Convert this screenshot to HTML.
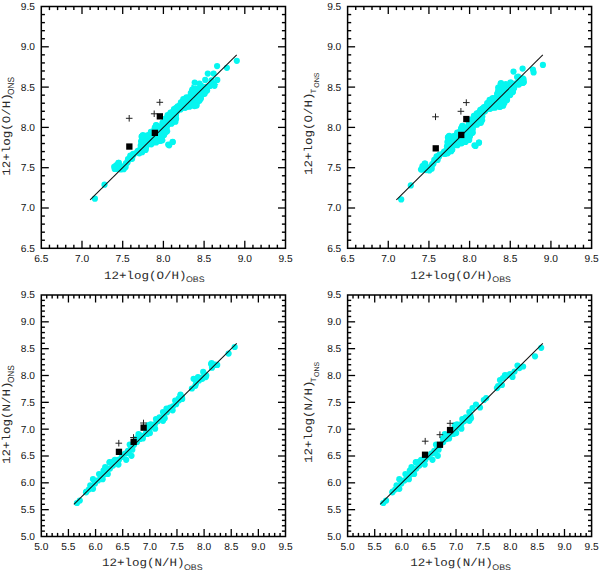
<!DOCTYPE html>
<html><head><meta charset="utf-8"><style>
html,body{margin:0;padding:0;background:#fff;width:600px;height:572px;overflow:hidden}
svg{display:block;text-rendering:geometricPrecision}
</style></head><body>
<svg width="600" height="572" viewBox="0 0 600 572">
<rect width="600" height="572" fill="#fff"/>
<polygon fill="#06f6f0" points="112.5,168.3 113.2,165.5 114.2,164.2 115.8,161.7 118.3,160.2 120.8,161.5 121.8,163.8 123.5,163.0 125.0,160.0 126.7,156.7 129.2,153.3 132.5,151.7 135.8,149.6 138.3,146.7 138.5,143.3 139.0,139.5 139.5,134.5 142.0,133.1 144.8,134.3 147.5,132.2 149.5,130.0 152.5,127.8 152.8,125.0 155.9,122.0 159.0,124.3 160.5,121.6 163.5,117.0 166.1,113.2 169.6,110.4 173.1,106.9 175.9,104.8 178.5,102.0 180.1,99.2 182.9,96.4 184.9,95.5 188.1,94.2 189.5,89.5 191.2,87.2 191.5,84.5 195.0,86.0 199.0,86.8 203.0,85.5 206.5,84.2 210.0,83.6 213.5,83.6 216.8,83.2 218.5,84.5 214.0,86.2 210.5,87.2 209.8,88.5 209.3,91.5 206.5,95.2 203.4,97.8 202.8,101.0 200.2,103.1 198.6,106.7 195.5,108.4 191.2,108.6 187.5,109.7 184.9,110.2 180.7,111.8 178.3,114.9 178.3,119.5 176.7,123.6 172.5,125.7 169.5,127.0 168.3,130.0 169.0,132.5 166.7,135.3 164.8,138.0 164.5,141.0 162.0,142.6 157.3,144.5 155.0,145.0 151.7,146.7 148.3,147.5 148.3,150.8 145.0,153.3 140.0,155.8 136.7,155.2 134.2,157.5 133.3,160.8 130.0,162.5 128.3,165.8 127.5,169.2 124.2,171.7 119.2,171.7 115.0,170.8"/>
<g fill="#06f6f0"><circle cx="114.7" cy="168.9" r="3.1"/><circle cx="116.2" cy="165.4" r="3.1"/><circle cx="118.4" cy="162.8" r="3.1"/><circle cx="118.9" cy="162.9" r="3.1"/><circle cx="125.9" cy="163.3" r="3.1"/><circle cx="128.0" cy="159.2" r="3.1"/><circle cx="130.3" cy="155.7" r="3.1"/><circle cx="133.2" cy="153.9" r="3.1"/><circle cx="137.8" cy="150.9" r="3.1"/><circle cx="140.7" cy="145.7" r="3.1"/><circle cx="141.1" cy="141.3" r="3.1"/><circle cx="141.6" cy="136.7" r="3.1"/><circle cx="142.9" cy="135.2" r="3.1"/><circle cx="147.3" cy="135.3" r="3.1"/><circle cx="150.9" cy="131.9" r="3.1"/><circle cx="154.8" cy="127.6" r="3.1"/><circle cx="156.0" cy="125.1" r="3.1"/><circle cx="156.5" cy="125.3" r="3.1"/><circle cx="162.5" cy="122.8" r="3.1"/><circle cx="165.0" cy="118.9" r="3.1"/><circle cx="167.6" cy="115.1" r="3.1"/><circle cx="170.5" cy="112.6" r="3.1"/><circle cx="174.0" cy="109.2" r="3.1"/><circle cx="177.7" cy="106.3" r="3.1"/><circle cx="180.9" cy="102.4" r="3.1"/><circle cx="183.3" cy="99.2" r="3.1"/><circle cx="186.4" cy="97.4" r="3.1"/><circle cx="190.8" cy="93.1" r="3.1"/><circle cx="192.3" cy="89.6" r="3.1"/><circle cx="195.9" cy="88.5" r="3.1"/><circle cx="201.5" cy="88.4" r="3.1"/><circle cx="205.9" cy="86.9" r="3.1"/><circle cx="210.0" cy="85.9" r="3.1"/><circle cx="214.5" cy="85.8" r="3.1"/><circle cx="213.6" cy="83.9" r="3.1"/><circle cx="208.2" cy="86.6" r="3.1"/><circle cx="207.1" cy="90.6" r="3.1"/><circle cx="204.6" cy="93.8" r="3.1"/><circle cx="200.9" cy="98.5" r="3.1"/><circle cx="199.4" cy="100.8" r="3.1"/><circle cx="196.6" cy="105.6" r="3.1"/><circle cx="194.5" cy="106.1" r="3.1"/><circle cx="189.4" cy="106.7" r="3.1"/><circle cx="185.2" cy="107.8" r="3.1"/><circle cx="180.5" cy="109.4" r="3.1"/><circle cx="176.0" cy="115.0" r="3.1"/><circle cx="176.1" cy="118.7" r="3.1"/><circle cx="175.4" cy="121.7" r="3.1"/><circle cx="171.4" cy="123.7" r="3.1"/><circle cx="166.8" cy="127.5" r="3.1"/><circle cx="167.1" cy="131.2" r="3.1"/><circle cx="164.1" cy="135.0" r="3.1"/><circle cx="162.3" cy="140.3" r="3.1"/><circle cx="160.1" cy="140.9" r="3.1"/><circle cx="156.1" cy="142.4" r="3.1"/><circle cx="151.3" cy="144.3" r="3.1"/><circle cx="146.0" cy="147.8" r="3.1"/><circle cx="145.6" cy="150.0" r="3.1"/><circle cx="142.1" cy="152.2" r="3.1"/><circle cx="139.3" cy="153.3" r="3.1"/><circle cx="133.4" cy="155.1" r="3.1"/><circle cx="132.1" cy="158.8" r="3.1"/><circle cx="127.5" cy="162.4" r="3.1"/><circle cx="125.6" cy="167.1" r="3.1"/><circle cx="123.7" cy="169.2" r="3.1"/><circle cx="120.7" cy="169.4" r="3.1"/><circle cx="116.7" cy="168.8" r="3.1"/><circle cx="114.2" cy="166.8" r="3.1"/></g>
<g fill="#06f6f0"><circle cx="94.9" cy="198.7" r="3.1"/><circle cx="104.5" cy="184.7" r="3.1"/><circle cx="217.1" cy="66.1" r="3.1"/><circle cx="226.9" cy="67.8" r="3.1"/><circle cx="236.8" cy="60.8" r="3.1"/><circle cx="169.2" cy="145.3" r="3.1"/><circle cx="172.7" cy="141.9" r="3.1"/><circle cx="207.8" cy="73.6" r="3.1"/><circle cx="213.6" cy="73.6" r="3.1"/><circle cx="205.2" cy="79.9" r="3.1"/><circle cx="217.3" cy="79.9" r="3.1"/><circle cx="211.5" cy="80.4" r="3.1"/><circle cx="194.7" cy="82.5" r="3.1"/><circle cx="201.0" cy="85.7" r="3.1"/><circle cx="206.2" cy="87.8" r="3.1"/><circle cx="199.5" cy="83.5" r="3.1"/><circle cx="142.3" cy="136.2" r="3.1"/><circle cx="146.7" cy="141.0" r="3.1"/><circle cx="149.9" cy="141.1" r="3.1"/><circle cx="161.2" cy="136.7" r="3.1"/><circle cx="165.6" cy="132.3" r="3.1"/><circle cx="168.2" cy="144.6" r="3.1"/><circle cx="172.6" cy="142.0" r="3.1"/><circle cx="163.0" cy="122.7" r="3.1"/><circle cx="173.5" cy="121.0" r="3.1"/><circle cx="176.1" cy="107.9" r="3.1"/><circle cx="184.0" cy="105.2" r="3.1"/><circle cx="207.0" cy="87.5" r="3.1"/><circle cx="195.6" cy="94.5" r="3.1"/><circle cx="191.2" cy="98.8" r="3.1"/><circle cx="194.7" cy="105.0" r="3.1"/><circle cx="186.9" cy="105.8" r="3.1"/><circle cx="174.6" cy="115.5" r="3.1"/><circle cx="182.5" cy="103.2" r="3.1"/><circle cx="207.2" cy="87.2" r="3.1"/><circle cx="163.1" cy="122.6" r="3.1"/><circle cx="160.5" cy="136.6" r="3.1"/><circle cx="150.9" cy="141.9" r="3.1"/><circle cx="206.0" cy="87.9" r="3.1"/><circle cx="194.6" cy="105.3" r="3.1"/><circle cx="192.0" cy="91.4" r="3.1"/></g>
<line x1="90.1" y1="199.9" x2="236.7" y2="54.9" stroke="#111" stroke-width="1.05"/>
<g stroke="#222" stroke-width="1"><line x1="125.9" y1="118.3" x2="132.5" y2="118.3"/><line x1="129.2" y1="115.0" x2="129.2" y2="121.6"/><line x1="156.5" y1="102.3" x2="163.1" y2="102.3"/><line x1="159.8" y1="99.0" x2="159.8" y2="105.6"/><line x1="150.9" y1="113.8" x2="157.5" y2="113.8"/><line x1="154.2" y1="110.5" x2="154.2" y2="117.0"/></g>
<g fill="#000"><rect x="126.2" y="143.4" width="6.3" height="6.3"/><rect x="156.7" y="113.2" width="6.3" height="6.3"/><rect x="151.7" y="129.7" width="6.3" height="6.3"/></g>
<rect x="41.3" y="6.5" width="244.20" height="241.80" fill="none" stroke="#000" stroke-width="1.5"/>
<g stroke="#000"><line x1="49.44" y1="248.3" x2="49.44" y2="244.70000000000002" stroke-width="1.4"/><line x1="49.44" y1="6.5" x2="49.44" y2="10.1" stroke-width="1.4"/><line x1="41.3" y1="240.24" x2="44.9" y2="240.24" stroke-width="1.4"/><line x1="285.5" y1="240.24" x2="281.9" y2="240.24" stroke-width="1.4"/><line x1="57.58" y1="248.3" x2="57.58" y2="244.70000000000002" stroke-width="1.4"/><line x1="57.58" y1="6.5" x2="57.58" y2="10.1" stroke-width="1.4"/><line x1="41.3" y1="232.18" x2="44.9" y2="232.18" stroke-width="1.4"/><line x1="285.5" y1="232.18" x2="281.9" y2="232.18" stroke-width="1.4"/><line x1="65.72" y1="248.3" x2="65.72" y2="244.70000000000002" stroke-width="1.4"/><line x1="65.72" y1="6.5" x2="65.72" y2="10.1" stroke-width="1.4"/><line x1="41.3" y1="224.12" x2="44.9" y2="224.12" stroke-width="1.4"/><line x1="285.5" y1="224.12" x2="281.9" y2="224.12" stroke-width="1.4"/><line x1="73.86" y1="248.3" x2="73.86" y2="244.70000000000002" stroke-width="1.4"/><line x1="73.86" y1="6.5" x2="73.86" y2="10.1" stroke-width="1.4"/><line x1="41.3" y1="216.06" x2="44.9" y2="216.06" stroke-width="1.4"/><line x1="285.5" y1="216.06" x2="281.9" y2="216.06" stroke-width="1.4"/><line x1="82.00" y1="248.3" x2="82.00" y2="240.8" stroke-width="1.3"/><line x1="82.00" y1="6.5" x2="82.00" y2="14.0" stroke-width="1.3"/><line x1="41.3" y1="208.00" x2="48.8" y2="208.00" stroke-width="1.3"/><line x1="285.5" y1="208.00" x2="278.0" y2="208.00" stroke-width="1.3"/><line x1="90.14" y1="248.3" x2="90.14" y2="244.70000000000002" stroke-width="1.4"/><line x1="90.14" y1="6.5" x2="90.14" y2="10.1" stroke-width="1.4"/><line x1="41.3" y1="199.94" x2="44.9" y2="199.94" stroke-width="1.4"/><line x1="285.5" y1="199.94" x2="281.9" y2="199.94" stroke-width="1.4"/><line x1="98.28" y1="248.3" x2="98.28" y2="244.70000000000002" stroke-width="1.4"/><line x1="98.28" y1="6.5" x2="98.28" y2="10.1" stroke-width="1.4"/><line x1="41.3" y1="191.88" x2="44.9" y2="191.88" stroke-width="1.4"/><line x1="285.5" y1="191.88" x2="281.9" y2="191.88" stroke-width="1.4"/><line x1="106.42" y1="248.3" x2="106.42" y2="244.70000000000002" stroke-width="1.4"/><line x1="106.42" y1="6.5" x2="106.42" y2="10.1" stroke-width="1.4"/><line x1="41.3" y1="183.82" x2="44.9" y2="183.82" stroke-width="1.4"/><line x1="285.5" y1="183.82" x2="281.9" y2="183.82" stroke-width="1.4"/><line x1="114.56" y1="248.3" x2="114.56" y2="244.70000000000002" stroke-width="1.4"/><line x1="114.56" y1="6.5" x2="114.56" y2="10.1" stroke-width="1.4"/><line x1="41.3" y1="175.76" x2="44.9" y2="175.76" stroke-width="1.4"/><line x1="285.5" y1="175.76" x2="281.9" y2="175.76" stroke-width="1.4"/><line x1="122.70" y1="248.3" x2="122.70" y2="240.8" stroke-width="1.3"/><line x1="122.70" y1="6.5" x2="122.70" y2="14.0" stroke-width="1.3"/><line x1="41.3" y1="167.70" x2="48.8" y2="167.70" stroke-width="1.3"/><line x1="285.5" y1="167.70" x2="278.0" y2="167.70" stroke-width="1.3"/><line x1="130.84" y1="248.3" x2="130.84" y2="244.70000000000002" stroke-width="1.4"/><line x1="130.84" y1="6.5" x2="130.84" y2="10.1" stroke-width="1.4"/><line x1="41.3" y1="159.64" x2="44.9" y2="159.64" stroke-width="1.4"/><line x1="285.5" y1="159.64" x2="281.9" y2="159.64" stroke-width="1.4"/><line x1="138.98" y1="248.3" x2="138.98" y2="244.70000000000002" stroke-width="1.4"/><line x1="138.98" y1="6.5" x2="138.98" y2="10.1" stroke-width="1.4"/><line x1="41.3" y1="151.58" x2="44.9" y2="151.58" stroke-width="1.4"/><line x1="285.5" y1="151.58" x2="281.9" y2="151.58" stroke-width="1.4"/><line x1="147.12" y1="248.3" x2="147.12" y2="244.70000000000002" stroke-width="1.4"/><line x1="147.12" y1="6.5" x2="147.12" y2="10.1" stroke-width="1.4"/><line x1="41.3" y1="143.52" x2="44.9" y2="143.52" stroke-width="1.4"/><line x1="285.5" y1="143.52" x2="281.9" y2="143.52" stroke-width="1.4"/><line x1="155.26" y1="248.3" x2="155.26" y2="244.70000000000002" stroke-width="1.4"/><line x1="155.26" y1="6.5" x2="155.26" y2="10.1" stroke-width="1.4"/><line x1="41.3" y1="135.46" x2="44.9" y2="135.46" stroke-width="1.4"/><line x1="285.5" y1="135.46" x2="281.9" y2="135.46" stroke-width="1.4"/><line x1="163.40" y1="248.3" x2="163.40" y2="240.8" stroke-width="1.3"/><line x1="163.40" y1="6.5" x2="163.40" y2="14.0" stroke-width="1.3"/><line x1="41.3" y1="127.40" x2="48.8" y2="127.40" stroke-width="1.3"/><line x1="285.5" y1="127.40" x2="278.0" y2="127.40" stroke-width="1.3"/><line x1="171.54" y1="248.3" x2="171.54" y2="244.70000000000002" stroke-width="1.4"/><line x1="171.54" y1="6.5" x2="171.54" y2="10.1" stroke-width="1.4"/><line x1="41.3" y1="119.34" x2="44.9" y2="119.34" stroke-width="1.4"/><line x1="285.5" y1="119.34" x2="281.9" y2="119.34" stroke-width="1.4"/><line x1="179.68" y1="248.3" x2="179.68" y2="244.70000000000002" stroke-width="1.4"/><line x1="179.68" y1="6.5" x2="179.68" y2="10.1" stroke-width="1.4"/><line x1="41.3" y1="111.28" x2="44.9" y2="111.28" stroke-width="1.4"/><line x1="285.5" y1="111.28" x2="281.9" y2="111.28" stroke-width="1.4"/><line x1="187.82" y1="248.3" x2="187.82" y2="244.70000000000002" stroke-width="1.4"/><line x1="187.82" y1="6.5" x2="187.82" y2="10.1" stroke-width="1.4"/><line x1="41.3" y1="103.22" x2="44.9" y2="103.22" stroke-width="1.4"/><line x1="285.5" y1="103.22" x2="281.9" y2="103.22" stroke-width="1.4"/><line x1="195.96" y1="248.3" x2="195.96" y2="244.70000000000002" stroke-width="1.4"/><line x1="195.96" y1="6.5" x2="195.96" y2="10.1" stroke-width="1.4"/><line x1="41.3" y1="95.16" x2="44.9" y2="95.16" stroke-width="1.4"/><line x1="285.5" y1="95.16" x2="281.9" y2="95.16" stroke-width="1.4"/><line x1="204.10" y1="248.3" x2="204.10" y2="240.8" stroke-width="1.3"/><line x1="204.10" y1="6.5" x2="204.10" y2="14.0" stroke-width="1.3"/><line x1="41.3" y1="87.10" x2="48.8" y2="87.10" stroke-width="1.3"/><line x1="285.5" y1="87.10" x2="278.0" y2="87.10" stroke-width="1.3"/><line x1="212.24" y1="248.3" x2="212.24" y2="244.70000000000002" stroke-width="1.4"/><line x1="212.24" y1="6.5" x2="212.24" y2="10.1" stroke-width="1.4"/><line x1="41.3" y1="79.04" x2="44.9" y2="79.04" stroke-width="1.4"/><line x1="285.5" y1="79.04" x2="281.9" y2="79.04" stroke-width="1.4"/><line x1="220.38" y1="248.3" x2="220.38" y2="244.70000000000002" stroke-width="1.4"/><line x1="220.38" y1="6.5" x2="220.38" y2="10.1" stroke-width="1.4"/><line x1="41.3" y1="70.98" x2="44.9" y2="70.98" stroke-width="1.4"/><line x1="285.5" y1="70.98" x2="281.9" y2="70.98" stroke-width="1.4"/><line x1="228.52" y1="248.3" x2="228.52" y2="244.70000000000002" stroke-width="1.4"/><line x1="228.52" y1="6.5" x2="228.52" y2="10.1" stroke-width="1.4"/><line x1="41.3" y1="62.92" x2="44.9" y2="62.92" stroke-width="1.4"/><line x1="285.5" y1="62.92" x2="281.9" y2="62.92" stroke-width="1.4"/><line x1="236.66" y1="248.3" x2="236.66" y2="244.70000000000002" stroke-width="1.4"/><line x1="236.66" y1="6.5" x2="236.66" y2="10.1" stroke-width="1.4"/><line x1="41.3" y1="54.86" x2="44.9" y2="54.86" stroke-width="1.4"/><line x1="285.5" y1="54.86" x2="281.9" y2="54.86" stroke-width="1.4"/><line x1="244.80" y1="248.3" x2="244.80" y2="240.8" stroke-width="1.3"/><line x1="244.80" y1="6.5" x2="244.80" y2="14.0" stroke-width="1.3"/><line x1="41.3" y1="46.80" x2="48.8" y2="46.80" stroke-width="1.3"/><line x1="285.5" y1="46.80" x2="278.0" y2="46.80" stroke-width="1.3"/><line x1="252.94" y1="248.3" x2="252.94" y2="244.70000000000002" stroke-width="1.4"/><line x1="252.94" y1="6.5" x2="252.94" y2="10.1" stroke-width="1.4"/><line x1="41.3" y1="38.74" x2="44.9" y2="38.74" stroke-width="1.4"/><line x1="285.5" y1="38.74" x2="281.9" y2="38.74" stroke-width="1.4"/><line x1="261.08" y1="248.3" x2="261.08" y2="244.70000000000002" stroke-width="1.4"/><line x1="261.08" y1="6.5" x2="261.08" y2="10.1" stroke-width="1.4"/><line x1="41.3" y1="30.68" x2="44.9" y2="30.68" stroke-width="1.4"/><line x1="285.5" y1="30.68" x2="281.9" y2="30.68" stroke-width="1.4"/><line x1="269.22" y1="248.3" x2="269.22" y2="244.70000000000002" stroke-width="1.4"/><line x1="269.22" y1="6.5" x2="269.22" y2="10.1" stroke-width="1.4"/><line x1="41.3" y1="22.62" x2="44.9" y2="22.62" stroke-width="1.4"/><line x1="285.5" y1="22.62" x2="281.9" y2="22.62" stroke-width="1.4"/><line x1="277.36" y1="248.3" x2="277.36" y2="244.70000000000002" stroke-width="1.4"/><line x1="277.36" y1="6.5" x2="277.36" y2="10.1" stroke-width="1.4"/><line x1="41.3" y1="14.56" x2="44.9" y2="14.56" stroke-width="1.4"/><line x1="285.5" y1="14.56" x2="281.9" y2="14.56" stroke-width="1.4"/></g>
<g font-family="Liberation Sans, sans-serif" font-size="10.2" fill="#111"><text x="41.30" y="261.90" text-anchor="middle">6.5</text><text x="35.00" y="251.70" text-anchor="end">6.5</text><text x="82.00" y="261.90" text-anchor="middle">7.0</text><text x="35.00" y="211.40" text-anchor="end">7.0</text><text x="122.70" y="261.90" text-anchor="middle">7.5</text><text x="35.00" y="171.10" text-anchor="end">7.5</text><text x="163.40" y="261.90" text-anchor="middle">8.0</text><text x="35.00" y="130.80" text-anchor="end">8.0</text><text x="204.10" y="261.90" text-anchor="middle">8.5</text><text x="35.00" y="90.50" text-anchor="end">8.5</text><text x="244.80" y="261.90" text-anchor="middle">9.0</text><text x="35.00" y="50.20" text-anchor="end">9.0</text><text x="285.50" y="261.90" text-anchor="middle">9.5</text><text x="35.00" y="9.90" text-anchor="end">9.5</text></g>
<polygon fill="#06f6f0" points="418.8,169.0 419.5,166.2 420.5,164.9 422.1,162.4 424.6,160.9 427.1,162.2 428.1,164.5 429.8,163.7 431.3,160.7 433.0,157.4 435.5,154.0 438.8,152.4 442.1,150.3 444.6,147.4 444.8,144.0 445.3,140.2 445.8,135.2 448.3,133.8 451.1,135.0 453.8,132.9 455.8,130.7 458.8,128.5 459.1,125.7 462.2,122.7 465.3,125.0 466.8,122.3 469.8,117.7 472.4,113.9 475.9,111.1 479.4,107.6 482.2,105.5 484.8,102.7 486.4,99.9 489.2,97.1 491.2,96.2 494.4,94.9 495.8,90.2 497.5,87.9 497.8,85.2 501.3,85.5 505.3,84.9 509.3,83.5 512.8,81.9 516.3,80.9 519.8,79.9 522.8,79.5 524.9,81.2 524.5,84.5 520.3,86.5 516.8,87.7 516.1,89.2 515.6,92.2 512.8,95.9 509.7,98.5 509.1,101.7 506.5,103.8 504.9,107.4 501.8,109.1 497.5,109.3 493.8,110.4 491.2,110.9 487.0,112.5 484.6,115.6 484.6,120.2 483.0,124.3 478.8,126.4 475.8,127.7 474.6,130.7 475.3,133.2 473.0,136.0 471.1,138.7 470.8,141.7 468.3,143.3 463.6,145.2 461.3,145.7 458.0,147.4 454.6,148.2 454.6,151.5 451.3,154.0 446.3,156.5 443.0,155.9 440.5,158.2 439.6,161.5 436.3,163.2 434.6,166.5 433.8,169.9 430.5,172.4 425.5,172.4 421.3,171.5"/>
<g fill="#06f6f0"><circle cx="421.0" cy="169.6" r="3.1"/><circle cx="422.5" cy="166.1" r="3.1"/><circle cx="424.7" cy="163.5" r="3.1"/><circle cx="425.2" cy="163.6" r="3.1"/><circle cx="432.2" cy="164.0" r="3.1"/><circle cx="434.3" cy="159.9" r="3.1"/><circle cx="436.6" cy="156.4" r="3.1"/><circle cx="439.5" cy="154.6" r="3.1"/><circle cx="444.1" cy="151.6" r="3.1"/><circle cx="447.0" cy="146.4" r="3.1"/><circle cx="447.4" cy="142.0" r="3.1"/><circle cx="447.9" cy="137.4" r="3.1"/><circle cx="449.2" cy="135.9" r="3.1"/><circle cx="453.6" cy="136.0" r="3.1"/><circle cx="457.2" cy="132.6" r="3.1"/><circle cx="461.1" cy="128.3" r="3.1"/><circle cx="462.3" cy="125.8" r="3.1"/><circle cx="462.8" cy="126.0" r="3.1"/><circle cx="468.8" cy="123.5" r="3.1"/><circle cx="471.3" cy="119.6" r="3.1"/><circle cx="473.9" cy="115.8" r="3.1"/><circle cx="476.8" cy="113.3" r="3.1"/><circle cx="480.3" cy="109.9" r="3.1"/><circle cx="484.0" cy="107.0" r="3.1"/><circle cx="487.2" cy="103.1" r="3.1"/><circle cx="489.6" cy="99.9" r="3.1"/><circle cx="492.7" cy="98.1" r="3.1"/><circle cx="497.1" cy="93.8" r="3.1"/><circle cx="498.6" cy="90.3" r="3.1"/><circle cx="498.2" cy="87.5" r="3.1"/><circle cx="503.3" cy="87.5" r="3.1"/><circle cx="508.1" cy="86.3" r="3.1"/><circle cx="512.6" cy="84.5" r="3.1"/><circle cx="516.6" cy="83.2" r="3.1"/><circle cx="520.7" cy="82.1" r="3.1"/><circle cx="523.1" cy="82.7" r="3.1"/><circle cx="522.8" cy="82.8" r="3.1"/><circle cx="518.9" cy="84.6" r="3.1"/><circle cx="514.0" cy="88.2" r="3.1"/><circle cx="512.8" cy="92.0" r="3.1"/><circle cx="510.2" cy="95.1" r="3.1"/><circle cx="507.1" cy="100.1" r="3.1"/><circle cx="504.4" cy="102.9" r="3.1"/><circle cx="503.2" cy="105.7" r="3.1"/><circle cx="499.9" cy="106.9" r="3.1"/><circle cx="494.9" cy="107.7" r="3.1"/><circle cx="490.2" cy="108.8" r="3.1"/><circle cx="485.0" cy="111.3" r="3.1"/><circle cx="482.3" cy="116.6" r="3.1"/><circle cx="482.1" cy="120.2" r="3.1"/><circle cx="480.9" cy="122.8" r="3.1"/><circle cx="476.9" cy="124.7" r="3.1"/><circle cx="472.8" cy="129.1" r="3.1"/><circle cx="472.8" cy="132.6" r="3.1"/><circle cx="469.9" cy="136.4" r="3.1"/><circle cx="469.2" cy="140.0" r="3.1"/><circle cx="465.5" cy="141.9" r="3.1"/><circle cx="461.6" cy="143.3" r="3.1"/><circle cx="457.4" cy="145.2" r="3.1"/><circle cx="452.3" cy="149.4" r="3.1"/><circle cx="451.2" cy="151.2" r="3.1"/><circle cx="447.6" cy="153.3" r="3.1"/><circle cx="444.8" cy="153.9" r="3.1"/><circle cx="439.1" cy="156.4" r="3.1"/><circle cx="437.6" cy="159.9" r="3.1"/><circle cx="433.4" cy="163.8" r="3.1"/><circle cx="431.7" cy="168.7" r="3.1"/><circle cx="429.3" cy="170.4" r="3.1"/><circle cx="426.1" cy="170.1" r="3.1"/><circle cx="422.1" cy="169.3" r="3.1"/></g>
<g fill="#06f6f0"><circle cx="401.2" cy="199.4" r="3.1"/><circle cx="410.8" cy="185.4" r="3.1"/><circle cx="475.5" cy="146.0" r="3.1"/><circle cx="479.0" cy="142.6" r="3.1"/><circle cx="501.0" cy="83.2" r="3.1"/><circle cx="507.3" cy="86.4" r="3.1"/><circle cx="512.5" cy="88.5" r="3.1"/><circle cx="505.8" cy="84.2" r="3.1"/><circle cx="448.6" cy="136.9" r="3.1"/><circle cx="453.0" cy="141.7" r="3.1"/><circle cx="456.2" cy="141.8" r="3.1"/><circle cx="467.5" cy="137.4" r="3.1"/><circle cx="471.9" cy="133.0" r="3.1"/><circle cx="474.5" cy="145.3" r="3.1"/><circle cx="478.9" cy="142.7" r="3.1"/><circle cx="469.3" cy="123.4" r="3.1"/><circle cx="479.8" cy="121.7" r="3.1"/><circle cx="482.4" cy="108.6" r="3.1"/><circle cx="490.3" cy="105.9" r="3.1"/><circle cx="513.3" cy="88.2" r="3.1"/><circle cx="501.9" cy="95.2" r="3.1"/><circle cx="497.5" cy="99.5" r="3.1"/><circle cx="501.0" cy="105.7" r="3.1"/><circle cx="493.2" cy="106.5" r="3.1"/><circle cx="480.9" cy="116.2" r="3.1"/><circle cx="488.8" cy="103.9" r="3.1"/><circle cx="513.5" cy="87.9" r="3.1"/><circle cx="469.4" cy="123.3" r="3.1"/><circle cx="466.8" cy="137.3" r="3.1"/><circle cx="457.2" cy="142.6" r="3.1"/><circle cx="512.3" cy="88.6" r="3.1"/><circle cx="500.9" cy="106.0" r="3.1"/><circle cx="498.3" cy="92.1" r="3.1"/><circle cx="542.9" cy="64.9" r="3.1"/><circle cx="532.9" cy="69.6" r="3.1"/><circle cx="533.6" cy="72.4" r="3.1"/><circle cx="522.6" cy="68.6" r="3.1"/><circle cx="513.5" cy="71.6" r="3.1"/><circle cx="517.1" cy="77.1" r="3.1"/><circle cx="522.6" cy="78.4" r="3.1"/><circle cx="523.9" cy="82.0" r="3.1"/><circle cx="510.4" cy="82.6" r="3.1"/><circle cx="500.6" cy="83.9" r="3.1"/><circle cx="512.8" cy="88.2" r="3.1"/><circle cx="518.1" cy="76.7" r="3.1"/><circle cx="523.5" cy="79.2" r="3.1"/><circle cx="520.2" cy="80.0" r="3.1"/><circle cx="511.0" cy="82.5" r="3.1"/><circle cx="513.9" cy="87.5" r="3.1"/><circle cx="501.0" cy="84.2" r="3.1"/><circle cx="498.5" cy="90.0" r="3.1"/><circle cx="508.5" cy="90.0" r="3.1"/><circle cx="512.7" cy="91.7" r="3.1"/></g>
<line x1="396.4" y1="199.9" x2="542.8" y2="54.9" stroke="#111" stroke-width="1.05"/>
<g stroke="#222" stroke-width="1"><line x1="432.2" y1="116.8" x2="438.8" y2="116.8"/><line x1="435.5" y1="113.5" x2="435.5" y2="120.1"/><line x1="457.6" y1="111.3" x2="464.2" y2="111.3"/><line x1="460.9" y1="108.0" x2="460.9" y2="114.6"/><line x1="463.0" y1="102.6" x2="469.6" y2="102.6"/><line x1="466.3" y1="99.3" x2="466.3" y2="105.9"/></g>
<g fill="#000"><rect x="432.6" y="145.2" width="6.3" height="6.3"/><rect x="458.1" y="131.8" width="6.3" height="6.3"/><rect x="463.2" y="115.9" width="6.3" height="6.3"/></g>
<rect x="347.6" y="6.5" width="244.00" height="241.80" fill="none" stroke="#000" stroke-width="1.5"/>
<g stroke="#000"><line x1="355.73" y1="248.3" x2="355.73" y2="244.70000000000002" stroke-width="1.4"/><line x1="355.73" y1="6.5" x2="355.73" y2="10.1" stroke-width="1.4"/><line x1="347.6" y1="240.24" x2="351.20000000000005" y2="240.24" stroke-width="1.4"/><line x1="591.6" y1="240.24" x2="588.0" y2="240.24" stroke-width="1.4"/><line x1="363.87" y1="248.3" x2="363.87" y2="244.70000000000002" stroke-width="1.4"/><line x1="363.87" y1="6.5" x2="363.87" y2="10.1" stroke-width="1.4"/><line x1="347.6" y1="232.18" x2="351.20000000000005" y2="232.18" stroke-width="1.4"/><line x1="591.6" y1="232.18" x2="588.0" y2="232.18" stroke-width="1.4"/><line x1="372.00" y1="248.3" x2="372.00" y2="244.70000000000002" stroke-width="1.4"/><line x1="372.00" y1="6.5" x2="372.00" y2="10.1" stroke-width="1.4"/><line x1="347.6" y1="224.12" x2="351.20000000000005" y2="224.12" stroke-width="1.4"/><line x1="591.6" y1="224.12" x2="588.0" y2="224.12" stroke-width="1.4"/><line x1="380.13" y1="248.3" x2="380.13" y2="244.70000000000002" stroke-width="1.4"/><line x1="380.13" y1="6.5" x2="380.13" y2="10.1" stroke-width="1.4"/><line x1="347.6" y1="216.06" x2="351.20000000000005" y2="216.06" stroke-width="1.4"/><line x1="591.6" y1="216.06" x2="588.0" y2="216.06" stroke-width="1.4"/><line x1="388.27" y1="248.3" x2="388.27" y2="240.8" stroke-width="1.3"/><line x1="388.27" y1="6.5" x2="388.27" y2="14.0" stroke-width="1.3"/><line x1="347.6" y1="208.00" x2="355.1" y2="208.00" stroke-width="1.3"/><line x1="591.6" y1="208.00" x2="584.1" y2="208.00" stroke-width="1.3"/><line x1="396.40" y1="248.3" x2="396.40" y2="244.70000000000002" stroke-width="1.4"/><line x1="396.40" y1="6.5" x2="396.40" y2="10.1" stroke-width="1.4"/><line x1="347.6" y1="199.94" x2="351.20000000000005" y2="199.94" stroke-width="1.4"/><line x1="591.6" y1="199.94" x2="588.0" y2="199.94" stroke-width="1.4"/><line x1="404.53" y1="248.3" x2="404.53" y2="244.70000000000002" stroke-width="1.4"/><line x1="404.53" y1="6.5" x2="404.53" y2="10.1" stroke-width="1.4"/><line x1="347.6" y1="191.88" x2="351.20000000000005" y2="191.88" stroke-width="1.4"/><line x1="591.6" y1="191.88" x2="588.0" y2="191.88" stroke-width="1.4"/><line x1="412.67" y1="248.3" x2="412.67" y2="244.70000000000002" stroke-width="1.4"/><line x1="412.67" y1="6.5" x2="412.67" y2="10.1" stroke-width="1.4"/><line x1="347.6" y1="183.82" x2="351.20000000000005" y2="183.82" stroke-width="1.4"/><line x1="591.6" y1="183.82" x2="588.0" y2="183.82" stroke-width="1.4"/><line x1="420.80" y1="248.3" x2="420.80" y2="244.70000000000002" stroke-width="1.4"/><line x1="420.80" y1="6.5" x2="420.80" y2="10.1" stroke-width="1.4"/><line x1="347.6" y1="175.76" x2="351.20000000000005" y2="175.76" stroke-width="1.4"/><line x1="591.6" y1="175.76" x2="588.0" y2="175.76" stroke-width="1.4"/><line x1="428.93" y1="248.3" x2="428.93" y2="240.8" stroke-width="1.3"/><line x1="428.93" y1="6.5" x2="428.93" y2="14.0" stroke-width="1.3"/><line x1="347.6" y1="167.70" x2="355.1" y2="167.70" stroke-width="1.3"/><line x1="591.6" y1="167.70" x2="584.1" y2="167.70" stroke-width="1.3"/><line x1="437.07" y1="248.3" x2="437.07" y2="244.70000000000002" stroke-width="1.4"/><line x1="437.07" y1="6.5" x2="437.07" y2="10.1" stroke-width="1.4"/><line x1="347.6" y1="159.64" x2="351.20000000000005" y2="159.64" stroke-width="1.4"/><line x1="591.6" y1="159.64" x2="588.0" y2="159.64" stroke-width="1.4"/><line x1="445.20" y1="248.3" x2="445.20" y2="244.70000000000002" stroke-width="1.4"/><line x1="445.20" y1="6.5" x2="445.20" y2="10.1" stroke-width="1.4"/><line x1="347.6" y1="151.58" x2="351.20000000000005" y2="151.58" stroke-width="1.4"/><line x1="591.6" y1="151.58" x2="588.0" y2="151.58" stroke-width="1.4"/><line x1="453.33" y1="248.3" x2="453.33" y2="244.70000000000002" stroke-width="1.4"/><line x1="453.33" y1="6.5" x2="453.33" y2="10.1" stroke-width="1.4"/><line x1="347.6" y1="143.52" x2="351.20000000000005" y2="143.52" stroke-width="1.4"/><line x1="591.6" y1="143.52" x2="588.0" y2="143.52" stroke-width="1.4"/><line x1="461.47" y1="248.3" x2="461.47" y2="244.70000000000002" stroke-width="1.4"/><line x1="461.47" y1="6.5" x2="461.47" y2="10.1" stroke-width="1.4"/><line x1="347.6" y1="135.46" x2="351.20000000000005" y2="135.46" stroke-width="1.4"/><line x1="591.6" y1="135.46" x2="588.0" y2="135.46" stroke-width="1.4"/><line x1="469.60" y1="248.3" x2="469.60" y2="240.8" stroke-width="1.3"/><line x1="469.60" y1="6.5" x2="469.60" y2="14.0" stroke-width="1.3"/><line x1="347.6" y1="127.40" x2="355.1" y2="127.40" stroke-width="1.3"/><line x1="591.6" y1="127.40" x2="584.1" y2="127.40" stroke-width="1.3"/><line x1="477.73" y1="248.3" x2="477.73" y2="244.70000000000002" stroke-width="1.4"/><line x1="477.73" y1="6.5" x2="477.73" y2="10.1" stroke-width="1.4"/><line x1="347.6" y1="119.34" x2="351.20000000000005" y2="119.34" stroke-width="1.4"/><line x1="591.6" y1="119.34" x2="588.0" y2="119.34" stroke-width="1.4"/><line x1="485.87" y1="248.3" x2="485.87" y2="244.70000000000002" stroke-width="1.4"/><line x1="485.87" y1="6.5" x2="485.87" y2="10.1" stroke-width="1.4"/><line x1="347.6" y1="111.28" x2="351.20000000000005" y2="111.28" stroke-width="1.4"/><line x1="591.6" y1="111.28" x2="588.0" y2="111.28" stroke-width="1.4"/><line x1="494.00" y1="248.3" x2="494.00" y2="244.70000000000002" stroke-width="1.4"/><line x1="494.00" y1="6.5" x2="494.00" y2="10.1" stroke-width="1.4"/><line x1="347.6" y1="103.22" x2="351.20000000000005" y2="103.22" stroke-width="1.4"/><line x1="591.6" y1="103.22" x2="588.0" y2="103.22" stroke-width="1.4"/><line x1="502.13" y1="248.3" x2="502.13" y2="244.70000000000002" stroke-width="1.4"/><line x1="502.13" y1="6.5" x2="502.13" y2="10.1" stroke-width="1.4"/><line x1="347.6" y1="95.16" x2="351.20000000000005" y2="95.16" stroke-width="1.4"/><line x1="591.6" y1="95.16" x2="588.0" y2="95.16" stroke-width="1.4"/><line x1="510.27" y1="248.3" x2="510.27" y2="240.8" stroke-width="1.3"/><line x1="510.27" y1="6.5" x2="510.27" y2="14.0" stroke-width="1.3"/><line x1="347.6" y1="87.10" x2="355.1" y2="87.10" stroke-width="1.3"/><line x1="591.6" y1="87.10" x2="584.1" y2="87.10" stroke-width="1.3"/><line x1="518.40" y1="248.3" x2="518.40" y2="244.70000000000002" stroke-width="1.4"/><line x1="518.40" y1="6.5" x2="518.40" y2="10.1" stroke-width="1.4"/><line x1="347.6" y1="79.04" x2="351.20000000000005" y2="79.04" stroke-width="1.4"/><line x1="591.6" y1="79.04" x2="588.0" y2="79.04" stroke-width="1.4"/><line x1="526.53" y1="248.3" x2="526.53" y2="244.70000000000002" stroke-width="1.4"/><line x1="526.53" y1="6.5" x2="526.53" y2="10.1" stroke-width="1.4"/><line x1="347.6" y1="70.98" x2="351.20000000000005" y2="70.98" stroke-width="1.4"/><line x1="591.6" y1="70.98" x2="588.0" y2="70.98" stroke-width="1.4"/><line x1="534.67" y1="248.3" x2="534.67" y2="244.70000000000002" stroke-width="1.4"/><line x1="534.67" y1="6.5" x2="534.67" y2="10.1" stroke-width="1.4"/><line x1="347.6" y1="62.92" x2="351.20000000000005" y2="62.92" stroke-width="1.4"/><line x1="591.6" y1="62.92" x2="588.0" y2="62.92" stroke-width="1.4"/><line x1="542.80" y1="248.3" x2="542.80" y2="244.70000000000002" stroke-width="1.4"/><line x1="542.80" y1="6.5" x2="542.80" y2="10.1" stroke-width="1.4"/><line x1="347.6" y1="54.86" x2="351.20000000000005" y2="54.86" stroke-width="1.4"/><line x1="591.6" y1="54.86" x2="588.0" y2="54.86" stroke-width="1.4"/><line x1="550.93" y1="248.3" x2="550.93" y2="240.8" stroke-width="1.3"/><line x1="550.93" y1="6.5" x2="550.93" y2="14.0" stroke-width="1.3"/><line x1="347.6" y1="46.80" x2="355.1" y2="46.80" stroke-width="1.3"/><line x1="591.6" y1="46.80" x2="584.1" y2="46.80" stroke-width="1.3"/><line x1="559.07" y1="248.3" x2="559.07" y2="244.70000000000002" stroke-width="1.4"/><line x1="559.07" y1="6.5" x2="559.07" y2="10.1" stroke-width="1.4"/><line x1="347.6" y1="38.74" x2="351.20000000000005" y2="38.74" stroke-width="1.4"/><line x1="591.6" y1="38.74" x2="588.0" y2="38.74" stroke-width="1.4"/><line x1="567.20" y1="248.3" x2="567.20" y2="244.70000000000002" stroke-width="1.4"/><line x1="567.20" y1="6.5" x2="567.20" y2="10.1" stroke-width="1.4"/><line x1="347.6" y1="30.68" x2="351.20000000000005" y2="30.68" stroke-width="1.4"/><line x1="591.6" y1="30.68" x2="588.0" y2="30.68" stroke-width="1.4"/><line x1="575.33" y1="248.3" x2="575.33" y2="244.70000000000002" stroke-width="1.4"/><line x1="575.33" y1="6.5" x2="575.33" y2="10.1" stroke-width="1.4"/><line x1="347.6" y1="22.62" x2="351.20000000000005" y2="22.62" stroke-width="1.4"/><line x1="591.6" y1="22.62" x2="588.0" y2="22.62" stroke-width="1.4"/><line x1="583.47" y1="248.3" x2="583.47" y2="244.70000000000002" stroke-width="1.4"/><line x1="583.47" y1="6.5" x2="583.47" y2="10.1" stroke-width="1.4"/><line x1="347.6" y1="14.56" x2="351.20000000000005" y2="14.56" stroke-width="1.4"/><line x1="591.6" y1="14.56" x2="588.0" y2="14.56" stroke-width="1.4"/></g>
<g font-family="Liberation Sans, sans-serif" font-size="10.2" fill="#111"><text x="347.60" y="261.90" text-anchor="middle">6.5</text><text x="341.30" y="251.70" text-anchor="end">6.5</text><text x="388.27" y="261.90" text-anchor="middle">7.0</text><text x="341.30" y="211.40" text-anchor="end">7.0</text><text x="428.93" y="261.90" text-anchor="middle">7.5</text><text x="341.30" y="171.10" text-anchor="end">7.5</text><text x="469.60" y="261.90" text-anchor="middle">8.0</text><text x="341.30" y="130.80" text-anchor="end">8.0</text><text x="510.27" y="261.90" text-anchor="middle">8.5</text><text x="341.30" y="90.50" text-anchor="end">8.5</text><text x="550.93" y="261.90" text-anchor="middle">9.0</text><text x="341.30" y="50.20" text-anchor="end">9.0</text><text x="591.60" y="261.90" text-anchor="middle">9.5</text><text x="341.30" y="9.90" text-anchor="end">9.5</text></g>
<g fill="#06f6f0"><circle cx="77.0" cy="503.0" r="3.1"/><circle cx="79.8" cy="500.6" r="3.1"/><circle cx="86.4" cy="491.5" r="3.1"/><circle cx="90.3" cy="485.3" r="3.1"/><circle cx="93.0" cy="488.8" r="3.1"/><circle cx="93.0" cy="479.2" r="3.1"/><circle cx="99.1" cy="474.0" r="3.1"/><circle cx="102.6" cy="479.2" r="3.1"/><circle cx="103.5" cy="470.5" r="3.1"/><circle cx="107.8" cy="474.0" r="3.1"/><circle cx="109.6" cy="462.6" r="3.1"/><circle cx="113.1" cy="461.7" r="3.1"/><circle cx="106.1" cy="468.7" r="3.1"/><circle cx="109.6" cy="462.0" r="3.1"/><circle cx="114.9" cy="459.8" r="3.1"/><circle cx="105.2" cy="467.2" r="3.1"/><circle cx="118.4" cy="464.6" r="3.1"/><circle cx="126.2" cy="459.8" r="3.1"/><circle cx="121.9" cy="456.7" r="3.1"/><circle cx="128.8" cy="453.2" r="3.1"/><circle cx="132.3" cy="449.7" r="3.1"/><circle cx="129.7" cy="444.5" r="3.1"/><circle cx="136.7" cy="438.4" r="3.1"/><circle cx="139.3" cy="434.9" r="3.1"/><circle cx="142.8" cy="438.4" r="3.1"/><circle cx="147.2" cy="434.0" r="3.1"/><circle cx="148.5" cy="425.2" r="3.1"/><circle cx="131.5" cy="455.8" r="3.1"/><circle cx="138.5" cy="434.0" r="3.1"/><circle cx="149.9" cy="433.1" r="3.1"/><circle cx="150.7" cy="424.3" r="3.1"/><circle cx="155.1" cy="428.7" r="3.1"/><circle cx="156.0" cy="419.1" r="3.1"/><circle cx="159.5" cy="417.3" r="3.1"/><circle cx="163.0" cy="420.8" r="3.1"/><circle cx="164.7" cy="418.2" r="3.1"/><circle cx="163.0" cy="412.1" r="3.1"/><circle cx="166.5" cy="408.6" r="3.1"/><circle cx="170.0" cy="407.7" r="3.1"/><circle cx="172.6" cy="410.3" r="3.1"/><circle cx="176.1" cy="404.2" r="3.1"/><circle cx="175.2" cy="400.7" r="3.1"/><circle cx="180.5" cy="394.6" r="3.1"/><circle cx="182.2" cy="399.0" r="3.1"/><circle cx="180.5" cy="395.5" r="3.1"/><circle cx="178.7" cy="398.5" r="3.1"/><circle cx="191.9" cy="388.5" r="3.1"/><circle cx="195.3" cy="385.8" r="3.1"/><circle cx="193.6" cy="378.8" r="3.1"/><circle cx="198.0" cy="377.1" r="3.1"/><circle cx="203.2" cy="371.9" r="3.1"/><circle cx="205.8" cy="377.1" r="3.1"/><circle cx="202.3" cy="378.8" r="3.1"/><circle cx="211.1" cy="364.0" r="3.1"/><circle cx="217.2" cy="364.9" r="3.1"/><circle cx="234.7" cy="347.0" r="3.1"/><circle cx="228.6" cy="353.6" r="3.1"/><circle cx="211.6" cy="363.2" r="3.1"/><circle cx="216.8" cy="365.0" r="3.1"/><circle cx="206.3" cy="375.5" r="3.1"/><circle cx="86.0" cy="492.3" r="3.1"/><circle cx="89.0" cy="489.3" r="3.1"/><circle cx="92.0" cy="486.4" r="3.1"/><circle cx="95.0" cy="483.4" r="3.1"/><circle cx="98.0" cy="480.4" r="3.1"/><circle cx="101.0" cy="477.5" r="3.1"/><circle cx="104.0" cy="474.5" r="3.1"/><circle cx="107.0" cy="471.5" r="3.1"/><circle cx="110.0" cy="468.6" r="3.1"/><circle cx="113.0" cy="465.6" r="3.1"/><circle cx="116.0" cy="462.6" r="3.1"/><circle cx="119.0" cy="459.7" r="3.1"/><circle cx="122.0" cy="456.7" r="3.1"/><circle cx="125.0" cy="453.7" r="3.1"/><circle cx="128.0" cy="450.8" r="3.1"/><circle cx="131.0" cy="447.8" r="3.1"/><circle cx="134.0" cy="444.8" r="3.1"/><circle cx="137.0" cy="441.9" r="3.1"/><circle cx="140.0" cy="438.9" r="3.1"/><circle cx="143.0" cy="435.9" r="3.1"/><circle cx="146.0" cy="433.0" r="3.1"/><circle cx="149.0" cy="430.0" r="3.1"/><circle cx="152.0" cy="427.0" r="3.1"/><circle cx="155.0" cy="424.1" r="3.1"/><circle cx="158.0" cy="421.1" r="3.1"/><circle cx="161.0" cy="418.1" r="3.1"/><circle cx="164.0" cy="415.2" r="3.1"/><circle cx="167.0" cy="412.2" r="3.1"/><circle cx="170.0" cy="409.2" r="3.1"/><circle cx="173.0" cy="406.3" r="3.1"/><circle cx="176.0" cy="403.3" r="3.1"/><circle cx="179.0" cy="400.3" r="3.1"/><circle cx="182.0" cy="397.4" r="3.1"/><circle cx="196.0" cy="383.5" r="3.1"/><circle cx="199.0" cy="380.5" r="3.1"/><circle cx="202.0" cy="377.6" r="3.1"/><circle cx="205.0" cy="374.6" r="3.1"/><circle cx="212.0" cy="367.7" r="3.1"/><circle cx="215.0" cy="364.7" r="3.1"/></g>
<line x1="73.9" y1="504.3" x2="236.7" y2="343.3" stroke="#111" stroke-width="1.05"/>
<g stroke="#222" stroke-width="1"><line x1="115.5" y1="443.2" x2="122.1" y2="443.2"/><line x1="118.8" y1="439.9" x2="118.8" y2="446.5"/><line x1="130.2" y1="437.5" x2="136.8" y2="437.5"/><line x1="133.5" y1="434.2" x2="133.5" y2="440.8"/><line x1="140.2" y1="423.0" x2="146.8" y2="423.0"/><line x1="143.5" y1="419.7" x2="143.5" y2="426.3"/></g>
<g fill="#000"><rect x="115.8" y="448.7" width="6.3" height="6.3"/><rect x="130.5" y="438.7" width="6.3" height="6.3"/><rect x="140.5" y="424.5" width="6.3" height="6.3"/></g>
<rect x="41.3" y="295.0" width="244.20" height="241.50" fill="none" stroke="#000" stroke-width="1.5"/>
<g stroke="#000"><line x1="46.73" y1="536.5" x2="46.73" y2="532.9" stroke-width="1.4"/><line x1="46.73" y1="295.0" x2="46.73" y2="298.6" stroke-width="1.4"/><line x1="41.3" y1="531.13" x2="44.9" y2="531.13" stroke-width="1.4"/><line x1="285.5" y1="531.13" x2="281.9" y2="531.13" stroke-width="1.4"/><line x1="52.15" y1="536.5" x2="52.15" y2="532.9" stroke-width="1.4"/><line x1="52.15" y1="295.0" x2="52.15" y2="298.6" stroke-width="1.4"/><line x1="41.3" y1="525.77" x2="44.9" y2="525.77" stroke-width="1.4"/><line x1="285.5" y1="525.77" x2="281.9" y2="525.77" stroke-width="1.4"/><line x1="57.58" y1="536.5" x2="57.58" y2="532.9" stroke-width="1.4"/><line x1="57.58" y1="295.0" x2="57.58" y2="298.6" stroke-width="1.4"/><line x1="41.3" y1="520.40" x2="44.9" y2="520.40" stroke-width="1.4"/><line x1="285.5" y1="520.40" x2="281.9" y2="520.40" stroke-width="1.4"/><line x1="63.01" y1="536.5" x2="63.01" y2="532.9" stroke-width="1.4"/><line x1="63.01" y1="295.0" x2="63.01" y2="298.6" stroke-width="1.4"/><line x1="41.3" y1="515.03" x2="44.9" y2="515.03" stroke-width="1.4"/><line x1="285.5" y1="515.03" x2="281.9" y2="515.03" stroke-width="1.4"/><line x1="68.43" y1="536.5" x2="68.43" y2="529.0" stroke-width="1.3"/><line x1="68.43" y1="295.0" x2="68.43" y2="302.5" stroke-width="1.3"/><line x1="41.3" y1="509.67" x2="48.8" y2="509.67" stroke-width="1.3"/><line x1="285.5" y1="509.67" x2="278.0" y2="509.67" stroke-width="1.3"/><line x1="73.86" y1="536.5" x2="73.86" y2="532.9" stroke-width="1.4"/><line x1="73.86" y1="295.0" x2="73.86" y2="298.6" stroke-width="1.4"/><line x1="41.3" y1="504.30" x2="44.9" y2="504.30" stroke-width="1.4"/><line x1="285.5" y1="504.30" x2="281.9" y2="504.30" stroke-width="1.4"/><line x1="79.29" y1="536.5" x2="79.29" y2="532.9" stroke-width="1.4"/><line x1="79.29" y1="295.0" x2="79.29" y2="298.6" stroke-width="1.4"/><line x1="41.3" y1="498.93" x2="44.9" y2="498.93" stroke-width="1.4"/><line x1="285.5" y1="498.93" x2="281.9" y2="498.93" stroke-width="1.4"/><line x1="84.71" y1="536.5" x2="84.71" y2="532.9" stroke-width="1.4"/><line x1="84.71" y1="295.0" x2="84.71" y2="298.6" stroke-width="1.4"/><line x1="41.3" y1="493.57" x2="44.9" y2="493.57" stroke-width="1.4"/><line x1="285.5" y1="493.57" x2="281.9" y2="493.57" stroke-width="1.4"/><line x1="90.14" y1="536.5" x2="90.14" y2="532.9" stroke-width="1.4"/><line x1="90.14" y1="295.0" x2="90.14" y2="298.6" stroke-width="1.4"/><line x1="41.3" y1="488.20" x2="44.9" y2="488.20" stroke-width="1.4"/><line x1="285.5" y1="488.20" x2="281.9" y2="488.20" stroke-width="1.4"/><line x1="95.57" y1="536.5" x2="95.57" y2="529.0" stroke-width="1.3"/><line x1="95.57" y1="295.0" x2="95.57" y2="302.5" stroke-width="1.3"/><line x1="41.3" y1="482.83" x2="48.8" y2="482.83" stroke-width="1.3"/><line x1="285.5" y1="482.83" x2="278.0" y2="482.83" stroke-width="1.3"/><line x1="100.99" y1="536.5" x2="100.99" y2="532.9" stroke-width="1.4"/><line x1="100.99" y1="295.0" x2="100.99" y2="298.6" stroke-width="1.4"/><line x1="41.3" y1="477.47" x2="44.9" y2="477.47" stroke-width="1.4"/><line x1="285.5" y1="477.47" x2="281.9" y2="477.47" stroke-width="1.4"/><line x1="106.42" y1="536.5" x2="106.42" y2="532.9" stroke-width="1.4"/><line x1="106.42" y1="295.0" x2="106.42" y2="298.6" stroke-width="1.4"/><line x1="41.3" y1="472.10" x2="44.9" y2="472.10" stroke-width="1.4"/><line x1="285.5" y1="472.10" x2="281.9" y2="472.10" stroke-width="1.4"/><line x1="111.85" y1="536.5" x2="111.85" y2="532.9" stroke-width="1.4"/><line x1="111.85" y1="295.0" x2="111.85" y2="298.6" stroke-width="1.4"/><line x1="41.3" y1="466.73" x2="44.9" y2="466.73" stroke-width="1.4"/><line x1="285.5" y1="466.73" x2="281.9" y2="466.73" stroke-width="1.4"/><line x1="117.27" y1="536.5" x2="117.27" y2="532.9" stroke-width="1.4"/><line x1="117.27" y1="295.0" x2="117.27" y2="298.6" stroke-width="1.4"/><line x1="41.3" y1="461.37" x2="44.9" y2="461.37" stroke-width="1.4"/><line x1="285.5" y1="461.37" x2="281.9" y2="461.37" stroke-width="1.4"/><line x1="122.70" y1="536.5" x2="122.70" y2="529.0" stroke-width="1.3"/><line x1="122.70" y1="295.0" x2="122.70" y2="302.5" stroke-width="1.3"/><line x1="41.3" y1="456.00" x2="48.8" y2="456.00" stroke-width="1.3"/><line x1="285.5" y1="456.00" x2="278.0" y2="456.00" stroke-width="1.3"/><line x1="128.13" y1="536.5" x2="128.13" y2="532.9" stroke-width="1.4"/><line x1="128.13" y1="295.0" x2="128.13" y2="298.6" stroke-width="1.4"/><line x1="41.3" y1="450.63" x2="44.9" y2="450.63" stroke-width="1.4"/><line x1="285.5" y1="450.63" x2="281.9" y2="450.63" stroke-width="1.4"/><line x1="133.55" y1="536.5" x2="133.55" y2="532.9" stroke-width="1.4"/><line x1="133.55" y1="295.0" x2="133.55" y2="298.6" stroke-width="1.4"/><line x1="41.3" y1="445.27" x2="44.9" y2="445.27" stroke-width="1.4"/><line x1="285.5" y1="445.27" x2="281.9" y2="445.27" stroke-width="1.4"/><line x1="138.98" y1="536.5" x2="138.98" y2="532.9" stroke-width="1.4"/><line x1="138.98" y1="295.0" x2="138.98" y2="298.6" stroke-width="1.4"/><line x1="41.3" y1="439.90" x2="44.9" y2="439.90" stroke-width="1.4"/><line x1="285.5" y1="439.90" x2="281.9" y2="439.90" stroke-width="1.4"/><line x1="144.41" y1="536.5" x2="144.41" y2="532.9" stroke-width="1.4"/><line x1="144.41" y1="295.0" x2="144.41" y2="298.6" stroke-width="1.4"/><line x1="41.3" y1="434.53" x2="44.9" y2="434.53" stroke-width="1.4"/><line x1="285.5" y1="434.53" x2="281.9" y2="434.53" stroke-width="1.4"/><line x1="149.83" y1="536.5" x2="149.83" y2="529.0" stroke-width="1.3"/><line x1="149.83" y1="295.0" x2="149.83" y2="302.5" stroke-width="1.3"/><line x1="41.3" y1="429.17" x2="48.8" y2="429.17" stroke-width="1.3"/><line x1="285.5" y1="429.17" x2="278.0" y2="429.17" stroke-width="1.3"/><line x1="155.26" y1="536.5" x2="155.26" y2="532.9" stroke-width="1.4"/><line x1="155.26" y1="295.0" x2="155.26" y2="298.6" stroke-width="1.4"/><line x1="41.3" y1="423.80" x2="44.9" y2="423.80" stroke-width="1.4"/><line x1="285.5" y1="423.80" x2="281.9" y2="423.80" stroke-width="1.4"/><line x1="160.69" y1="536.5" x2="160.69" y2="532.9" stroke-width="1.4"/><line x1="160.69" y1="295.0" x2="160.69" y2="298.6" stroke-width="1.4"/><line x1="41.3" y1="418.43" x2="44.9" y2="418.43" stroke-width="1.4"/><line x1="285.5" y1="418.43" x2="281.9" y2="418.43" stroke-width="1.4"/><line x1="166.11" y1="536.5" x2="166.11" y2="532.9" stroke-width="1.4"/><line x1="166.11" y1="295.0" x2="166.11" y2="298.6" stroke-width="1.4"/><line x1="41.3" y1="413.07" x2="44.9" y2="413.07" stroke-width="1.4"/><line x1="285.5" y1="413.07" x2="281.9" y2="413.07" stroke-width="1.4"/><line x1="171.54" y1="536.5" x2="171.54" y2="532.9" stroke-width="1.4"/><line x1="171.54" y1="295.0" x2="171.54" y2="298.6" stroke-width="1.4"/><line x1="41.3" y1="407.70" x2="44.9" y2="407.70" stroke-width="1.4"/><line x1="285.5" y1="407.70" x2="281.9" y2="407.70" stroke-width="1.4"/><line x1="176.97" y1="536.5" x2="176.97" y2="529.0" stroke-width="1.3"/><line x1="176.97" y1="295.0" x2="176.97" y2="302.5" stroke-width="1.3"/><line x1="41.3" y1="402.33" x2="48.8" y2="402.33" stroke-width="1.3"/><line x1="285.5" y1="402.33" x2="278.0" y2="402.33" stroke-width="1.3"/><line x1="182.39" y1="536.5" x2="182.39" y2="532.9" stroke-width="1.4"/><line x1="182.39" y1="295.0" x2="182.39" y2="298.6" stroke-width="1.4"/><line x1="41.3" y1="396.97" x2="44.9" y2="396.97" stroke-width="1.4"/><line x1="285.5" y1="396.97" x2="281.9" y2="396.97" stroke-width="1.4"/><line x1="187.82" y1="536.5" x2="187.82" y2="532.9" stroke-width="1.4"/><line x1="187.82" y1="295.0" x2="187.82" y2="298.6" stroke-width="1.4"/><line x1="41.3" y1="391.60" x2="44.9" y2="391.60" stroke-width="1.4"/><line x1="285.5" y1="391.60" x2="281.9" y2="391.60" stroke-width="1.4"/><line x1="193.25" y1="536.5" x2="193.25" y2="532.9" stroke-width="1.4"/><line x1="193.25" y1="295.0" x2="193.25" y2="298.6" stroke-width="1.4"/><line x1="41.3" y1="386.23" x2="44.9" y2="386.23" stroke-width="1.4"/><line x1="285.5" y1="386.23" x2="281.9" y2="386.23" stroke-width="1.4"/><line x1="198.67" y1="536.5" x2="198.67" y2="532.9" stroke-width="1.4"/><line x1="198.67" y1="295.0" x2="198.67" y2="298.6" stroke-width="1.4"/><line x1="41.3" y1="380.87" x2="44.9" y2="380.87" stroke-width="1.4"/><line x1="285.5" y1="380.87" x2="281.9" y2="380.87" stroke-width="1.4"/><line x1="204.10" y1="536.5" x2="204.10" y2="529.0" stroke-width="1.3"/><line x1="204.10" y1="295.0" x2="204.10" y2="302.5" stroke-width="1.3"/><line x1="41.3" y1="375.50" x2="48.8" y2="375.50" stroke-width="1.3"/><line x1="285.5" y1="375.50" x2="278.0" y2="375.50" stroke-width="1.3"/><line x1="209.53" y1="536.5" x2="209.53" y2="532.9" stroke-width="1.4"/><line x1="209.53" y1="295.0" x2="209.53" y2="298.6" stroke-width="1.4"/><line x1="41.3" y1="370.13" x2="44.9" y2="370.13" stroke-width="1.4"/><line x1="285.5" y1="370.13" x2="281.9" y2="370.13" stroke-width="1.4"/><line x1="214.95" y1="536.5" x2="214.95" y2="532.9" stroke-width="1.4"/><line x1="214.95" y1="295.0" x2="214.95" y2="298.6" stroke-width="1.4"/><line x1="41.3" y1="364.77" x2="44.9" y2="364.77" stroke-width="1.4"/><line x1="285.5" y1="364.77" x2="281.9" y2="364.77" stroke-width="1.4"/><line x1="220.38" y1="536.5" x2="220.38" y2="532.9" stroke-width="1.4"/><line x1="220.38" y1="295.0" x2="220.38" y2="298.6" stroke-width="1.4"/><line x1="41.3" y1="359.40" x2="44.9" y2="359.40" stroke-width="1.4"/><line x1="285.5" y1="359.40" x2="281.9" y2="359.40" stroke-width="1.4"/><line x1="225.81" y1="536.5" x2="225.81" y2="532.9" stroke-width="1.4"/><line x1="225.81" y1="295.0" x2="225.81" y2="298.6" stroke-width="1.4"/><line x1="41.3" y1="354.03" x2="44.9" y2="354.03" stroke-width="1.4"/><line x1="285.5" y1="354.03" x2="281.9" y2="354.03" stroke-width="1.4"/><line x1="231.23" y1="536.5" x2="231.23" y2="529.0" stroke-width="1.3"/><line x1="231.23" y1="295.0" x2="231.23" y2="302.5" stroke-width="1.3"/><line x1="41.3" y1="348.67" x2="48.8" y2="348.67" stroke-width="1.3"/><line x1="285.5" y1="348.67" x2="278.0" y2="348.67" stroke-width="1.3"/><line x1="236.66" y1="536.5" x2="236.66" y2="532.9" stroke-width="1.4"/><line x1="236.66" y1="295.0" x2="236.66" y2="298.6" stroke-width="1.4"/><line x1="41.3" y1="343.30" x2="44.9" y2="343.30" stroke-width="1.4"/><line x1="285.5" y1="343.30" x2="281.9" y2="343.30" stroke-width="1.4"/><line x1="242.09" y1="536.5" x2="242.09" y2="532.9" stroke-width="1.4"/><line x1="242.09" y1="295.0" x2="242.09" y2="298.6" stroke-width="1.4"/><line x1="41.3" y1="337.93" x2="44.9" y2="337.93" stroke-width="1.4"/><line x1="285.5" y1="337.93" x2="281.9" y2="337.93" stroke-width="1.4"/><line x1="247.51" y1="536.5" x2="247.51" y2="532.9" stroke-width="1.4"/><line x1="247.51" y1="295.0" x2="247.51" y2="298.6" stroke-width="1.4"/><line x1="41.3" y1="332.57" x2="44.9" y2="332.57" stroke-width="1.4"/><line x1="285.5" y1="332.57" x2="281.9" y2="332.57" stroke-width="1.4"/><line x1="252.94" y1="536.5" x2="252.94" y2="532.9" stroke-width="1.4"/><line x1="252.94" y1="295.0" x2="252.94" y2="298.6" stroke-width="1.4"/><line x1="41.3" y1="327.20" x2="44.9" y2="327.20" stroke-width="1.4"/><line x1="285.5" y1="327.20" x2="281.9" y2="327.20" stroke-width="1.4"/><line x1="258.37" y1="536.5" x2="258.37" y2="529.0" stroke-width="1.3"/><line x1="258.37" y1="295.0" x2="258.37" y2="302.5" stroke-width="1.3"/><line x1="41.3" y1="321.83" x2="48.8" y2="321.83" stroke-width="1.3"/><line x1="285.5" y1="321.83" x2="278.0" y2="321.83" stroke-width="1.3"/><line x1="263.79" y1="536.5" x2="263.79" y2="532.9" stroke-width="1.4"/><line x1="263.79" y1="295.0" x2="263.79" y2="298.6" stroke-width="1.4"/><line x1="41.3" y1="316.47" x2="44.9" y2="316.47" stroke-width="1.4"/><line x1="285.5" y1="316.47" x2="281.9" y2="316.47" stroke-width="1.4"/><line x1="269.22" y1="536.5" x2="269.22" y2="532.9" stroke-width="1.4"/><line x1="269.22" y1="295.0" x2="269.22" y2="298.6" stroke-width="1.4"/><line x1="41.3" y1="311.10" x2="44.9" y2="311.10" stroke-width="1.4"/><line x1="285.5" y1="311.10" x2="281.9" y2="311.10" stroke-width="1.4"/><line x1="274.65" y1="536.5" x2="274.65" y2="532.9" stroke-width="1.4"/><line x1="274.65" y1="295.0" x2="274.65" y2="298.6" stroke-width="1.4"/><line x1="41.3" y1="305.73" x2="44.9" y2="305.73" stroke-width="1.4"/><line x1="285.5" y1="305.73" x2="281.9" y2="305.73" stroke-width="1.4"/><line x1="280.07" y1="536.5" x2="280.07" y2="532.9" stroke-width="1.4"/><line x1="280.07" y1="295.0" x2="280.07" y2="298.6" stroke-width="1.4"/><line x1="41.3" y1="300.37" x2="44.9" y2="300.37" stroke-width="1.4"/><line x1="285.5" y1="300.37" x2="281.9" y2="300.37" stroke-width="1.4"/></g>
<g font-family="Liberation Sans, sans-serif" font-size="10.2" fill="#111"><text x="41.30" y="550.10" text-anchor="middle">5.0</text><text x="35.00" y="539.90" text-anchor="end">5.0</text><text x="68.43" y="550.10" text-anchor="middle">5.5</text><text x="35.00" y="513.07" text-anchor="end">5.5</text><text x="95.57" y="550.10" text-anchor="middle">6.0</text><text x="35.00" y="486.23" text-anchor="end">6.0</text><text x="122.70" y="550.10" text-anchor="middle">6.5</text><text x="35.00" y="459.40" text-anchor="end">6.5</text><text x="149.83" y="550.10" text-anchor="middle">7.0</text><text x="35.00" y="432.57" text-anchor="end">7.0</text><text x="176.97" y="550.10" text-anchor="middle">7.5</text><text x="35.00" y="405.73" text-anchor="end">7.5</text><text x="204.10" y="550.10" text-anchor="middle">8.0</text><text x="35.00" y="378.90" text-anchor="end">8.0</text><text x="231.23" y="550.10" text-anchor="middle">8.5</text><text x="35.00" y="352.07" text-anchor="end">8.5</text><text x="258.37" y="550.10" text-anchor="middle">9.0</text><text x="35.00" y="325.23" text-anchor="end">9.0</text><text x="285.50" y="550.10" text-anchor="middle">9.5</text><text x="35.00" y="298.40" text-anchor="end">9.5</text></g>
<g fill="#06f6f0"><circle cx="383.3" cy="503.0" r="3.1"/><circle cx="386.1" cy="500.6" r="3.1"/><circle cx="392.7" cy="491.5" r="3.1"/><circle cx="396.6" cy="485.3" r="3.1"/><circle cx="399.3" cy="488.8" r="3.1"/><circle cx="399.3" cy="479.2" r="3.1"/><circle cx="405.4" cy="474.0" r="3.1"/><circle cx="408.9" cy="479.2" r="3.1"/><circle cx="409.8" cy="470.5" r="3.1"/><circle cx="414.1" cy="474.0" r="3.1"/><circle cx="415.9" cy="462.6" r="3.1"/><circle cx="419.4" cy="461.7" r="3.1"/><circle cx="412.4" cy="468.7" r="3.1"/><circle cx="415.9" cy="462.0" r="3.1"/><circle cx="421.2" cy="459.8" r="3.1"/><circle cx="411.5" cy="467.2" r="3.1"/><circle cx="424.7" cy="464.6" r="3.1"/><circle cx="432.5" cy="459.8" r="3.1"/><circle cx="428.2" cy="456.7" r="3.1"/><circle cx="435.1" cy="453.2" r="3.1"/><circle cx="438.6" cy="449.7" r="3.1"/><circle cx="436.0" cy="444.5" r="3.1"/><circle cx="443.0" cy="438.4" r="3.1"/><circle cx="445.6" cy="434.9" r="3.1"/><circle cx="449.1" cy="438.4" r="3.1"/><circle cx="453.5" cy="434.0" r="3.1"/><circle cx="454.8" cy="425.2" r="3.1"/><circle cx="437.8" cy="455.8" r="3.1"/><circle cx="444.8" cy="434.0" r="3.1"/><circle cx="456.2" cy="433.1" r="3.1"/><circle cx="457.0" cy="424.3" r="3.1"/><circle cx="461.4" cy="428.7" r="3.1"/><circle cx="462.3" cy="419.1" r="3.1"/><circle cx="465.8" cy="417.3" r="3.1"/><circle cx="469.3" cy="420.8" r="3.1"/><circle cx="471.0" cy="418.2" r="3.1"/><circle cx="469.3" cy="412.1" r="3.1"/><circle cx="392.3" cy="492.3" r="3.1"/><circle cx="395.3" cy="489.3" r="3.1"/><circle cx="398.3" cy="486.4" r="3.1"/><circle cx="401.3" cy="483.4" r="3.1"/><circle cx="404.3" cy="480.4" r="3.1"/><circle cx="407.3" cy="477.5" r="3.1"/><circle cx="410.3" cy="474.5" r="3.1"/><circle cx="413.3" cy="471.5" r="3.1"/><circle cx="416.3" cy="468.6" r="3.1"/><circle cx="419.3" cy="465.6" r="3.1"/><circle cx="422.3" cy="462.6" r="3.1"/><circle cx="425.3" cy="459.7" r="3.1"/><circle cx="428.3" cy="456.7" r="3.1"/><circle cx="431.3" cy="453.7" r="3.1"/><circle cx="434.3" cy="450.8" r="3.1"/><circle cx="437.3" cy="447.8" r="3.1"/><circle cx="440.3" cy="444.8" r="3.1"/><circle cx="443.3" cy="441.9" r="3.1"/><circle cx="446.3" cy="438.9" r="3.1"/><circle cx="449.3" cy="435.9" r="3.1"/><circle cx="452.3" cy="433.0" r="3.1"/><circle cx="455.3" cy="430.0" r="3.1"/><circle cx="458.3" cy="427.0" r="3.1"/><circle cx="461.3" cy="424.1" r="3.1"/><circle cx="464.3" cy="421.1" r="3.1"/><circle cx="467.3" cy="418.1" r="3.1"/><circle cx="470.3" cy="415.2" r="3.1"/><circle cx="541.2" cy="347.8" r="3.1"/><circle cx="535.0" cy="356.3" r="3.1"/><circle cx="517.5" cy="365.6" r="3.1"/><circle cx="523.1" cy="366.5" r="3.1"/><circle cx="519.4" cy="368.1" r="3.1"/><circle cx="505.0" cy="375.0" r="3.1"/><circle cx="510.0" cy="374.0" r="3.1"/><circle cx="512.5" cy="376.9" r="3.1"/><circle cx="500.0" cy="380.0" r="3.1"/><circle cx="498.1" cy="386.2" r="3.1"/><circle cx="501.9" cy="385.0" r="3.1"/><circle cx="496.9" cy="388.1" r="3.1"/><circle cx="486.2" cy="398.1" r="3.1"/><circle cx="483.8" cy="400.0" r="3.1"/><circle cx="480.0" cy="407.5" r="3.1"/><circle cx="472.5" cy="408.1" r="3.1"/><circle cx="476.0" cy="404.5" r="3.1"/><circle cx="503.0" cy="378.0" r="3.1"/><circle cx="507.0" cy="375.5" r="3.1"/><circle cx="514.5" cy="371.5" r="3.1"/></g>
<line x1="380.1" y1="504.3" x2="542.8" y2="343.3" stroke="#111" stroke-width="1.05"/>
<g stroke="#222" stroke-width="1"><line x1="421.9" y1="441.2" x2="428.5" y2="441.2"/><line x1="425.2" y1="437.9" x2="425.2" y2="444.5"/><line x1="436.6" y1="434.7" x2="443.2" y2="434.7"/><line x1="439.9" y1="431.4" x2="439.9" y2="438.0"/><line x1="446.8" y1="423.3" x2="453.4" y2="423.3"/><line x1="450.1" y1="420.0" x2="450.1" y2="426.6"/></g>
<g fill="#000"><rect x="421.9" y="451.6" width="6.3" height="6.3"/><rect x="436.8" y="441.6" width="6.3" height="6.3"/><rect x="446.9" y="426.9" width="6.3" height="6.3"/></g>
<rect x="347.6" y="295.0" width="244.00" height="241.50" fill="none" stroke="#000" stroke-width="1.5"/>
<g stroke="#000"><line x1="353.02" y1="536.5" x2="353.02" y2="532.9" stroke-width="1.4"/><line x1="353.02" y1="295.0" x2="353.02" y2="298.6" stroke-width="1.4"/><line x1="347.6" y1="531.13" x2="351.20000000000005" y2="531.13" stroke-width="1.4"/><line x1="591.6" y1="531.13" x2="588.0" y2="531.13" stroke-width="1.4"/><line x1="358.44" y1="536.5" x2="358.44" y2="532.9" stroke-width="1.4"/><line x1="358.44" y1="295.0" x2="358.44" y2="298.6" stroke-width="1.4"/><line x1="347.6" y1="525.77" x2="351.20000000000005" y2="525.77" stroke-width="1.4"/><line x1="591.6" y1="525.77" x2="588.0" y2="525.77" stroke-width="1.4"/><line x1="363.87" y1="536.5" x2="363.87" y2="532.9" stroke-width="1.4"/><line x1="363.87" y1="295.0" x2="363.87" y2="298.6" stroke-width="1.4"/><line x1="347.6" y1="520.40" x2="351.20000000000005" y2="520.40" stroke-width="1.4"/><line x1="591.6" y1="520.40" x2="588.0" y2="520.40" stroke-width="1.4"/><line x1="369.29" y1="536.5" x2="369.29" y2="532.9" stroke-width="1.4"/><line x1="369.29" y1="295.0" x2="369.29" y2="298.6" stroke-width="1.4"/><line x1="347.6" y1="515.03" x2="351.20000000000005" y2="515.03" stroke-width="1.4"/><line x1="591.6" y1="515.03" x2="588.0" y2="515.03" stroke-width="1.4"/><line x1="374.71" y1="536.5" x2="374.71" y2="529.0" stroke-width="1.3"/><line x1="374.71" y1="295.0" x2="374.71" y2="302.5" stroke-width="1.3"/><line x1="347.6" y1="509.67" x2="355.1" y2="509.67" stroke-width="1.3"/><line x1="591.6" y1="509.67" x2="584.1" y2="509.67" stroke-width="1.3"/><line x1="380.13" y1="536.5" x2="380.13" y2="532.9" stroke-width="1.4"/><line x1="380.13" y1="295.0" x2="380.13" y2="298.6" stroke-width="1.4"/><line x1="347.6" y1="504.30" x2="351.20000000000005" y2="504.30" stroke-width="1.4"/><line x1="591.6" y1="504.30" x2="588.0" y2="504.30" stroke-width="1.4"/><line x1="385.56" y1="536.5" x2="385.56" y2="532.9" stroke-width="1.4"/><line x1="385.56" y1="295.0" x2="385.56" y2="298.6" stroke-width="1.4"/><line x1="347.6" y1="498.93" x2="351.20000000000005" y2="498.93" stroke-width="1.4"/><line x1="591.6" y1="498.93" x2="588.0" y2="498.93" stroke-width="1.4"/><line x1="390.98" y1="536.5" x2="390.98" y2="532.9" stroke-width="1.4"/><line x1="390.98" y1="295.0" x2="390.98" y2="298.6" stroke-width="1.4"/><line x1="347.6" y1="493.57" x2="351.20000000000005" y2="493.57" stroke-width="1.4"/><line x1="591.6" y1="493.57" x2="588.0" y2="493.57" stroke-width="1.4"/><line x1="396.40" y1="536.5" x2="396.40" y2="532.9" stroke-width="1.4"/><line x1="396.40" y1="295.0" x2="396.40" y2="298.6" stroke-width="1.4"/><line x1="347.6" y1="488.20" x2="351.20000000000005" y2="488.20" stroke-width="1.4"/><line x1="591.6" y1="488.20" x2="588.0" y2="488.20" stroke-width="1.4"/><line x1="401.82" y1="536.5" x2="401.82" y2="529.0" stroke-width="1.3"/><line x1="401.82" y1="295.0" x2="401.82" y2="302.5" stroke-width="1.3"/><line x1="347.6" y1="482.83" x2="355.1" y2="482.83" stroke-width="1.3"/><line x1="591.6" y1="482.83" x2="584.1" y2="482.83" stroke-width="1.3"/><line x1="407.24" y1="536.5" x2="407.24" y2="532.9" stroke-width="1.4"/><line x1="407.24" y1="295.0" x2="407.24" y2="298.6" stroke-width="1.4"/><line x1="347.6" y1="477.47" x2="351.20000000000005" y2="477.47" stroke-width="1.4"/><line x1="591.6" y1="477.47" x2="588.0" y2="477.47" stroke-width="1.4"/><line x1="412.67" y1="536.5" x2="412.67" y2="532.9" stroke-width="1.4"/><line x1="412.67" y1="295.0" x2="412.67" y2="298.6" stroke-width="1.4"/><line x1="347.6" y1="472.10" x2="351.20000000000005" y2="472.10" stroke-width="1.4"/><line x1="591.6" y1="472.10" x2="588.0" y2="472.10" stroke-width="1.4"/><line x1="418.09" y1="536.5" x2="418.09" y2="532.9" stroke-width="1.4"/><line x1="418.09" y1="295.0" x2="418.09" y2="298.6" stroke-width="1.4"/><line x1="347.6" y1="466.73" x2="351.20000000000005" y2="466.73" stroke-width="1.4"/><line x1="591.6" y1="466.73" x2="588.0" y2="466.73" stroke-width="1.4"/><line x1="423.51" y1="536.5" x2="423.51" y2="532.9" stroke-width="1.4"/><line x1="423.51" y1="295.0" x2="423.51" y2="298.6" stroke-width="1.4"/><line x1="347.6" y1="461.37" x2="351.20000000000005" y2="461.37" stroke-width="1.4"/><line x1="591.6" y1="461.37" x2="588.0" y2="461.37" stroke-width="1.4"/><line x1="428.93" y1="536.5" x2="428.93" y2="529.0" stroke-width="1.3"/><line x1="428.93" y1="295.0" x2="428.93" y2="302.5" stroke-width="1.3"/><line x1="347.6" y1="456.00" x2="355.1" y2="456.00" stroke-width="1.3"/><line x1="591.6" y1="456.00" x2="584.1" y2="456.00" stroke-width="1.3"/><line x1="434.36" y1="536.5" x2="434.36" y2="532.9" stroke-width="1.4"/><line x1="434.36" y1="295.0" x2="434.36" y2="298.6" stroke-width="1.4"/><line x1="347.6" y1="450.63" x2="351.20000000000005" y2="450.63" stroke-width="1.4"/><line x1="591.6" y1="450.63" x2="588.0" y2="450.63" stroke-width="1.4"/><line x1="439.78" y1="536.5" x2="439.78" y2="532.9" stroke-width="1.4"/><line x1="439.78" y1="295.0" x2="439.78" y2="298.6" stroke-width="1.4"/><line x1="347.6" y1="445.27" x2="351.20000000000005" y2="445.27" stroke-width="1.4"/><line x1="591.6" y1="445.27" x2="588.0" y2="445.27" stroke-width="1.4"/><line x1="445.20" y1="536.5" x2="445.20" y2="532.9" stroke-width="1.4"/><line x1="445.20" y1="295.0" x2="445.20" y2="298.6" stroke-width="1.4"/><line x1="347.6" y1="439.90" x2="351.20000000000005" y2="439.90" stroke-width="1.4"/><line x1="591.6" y1="439.90" x2="588.0" y2="439.90" stroke-width="1.4"/><line x1="450.62" y1="536.5" x2="450.62" y2="532.9" stroke-width="1.4"/><line x1="450.62" y1="295.0" x2="450.62" y2="298.6" stroke-width="1.4"/><line x1="347.6" y1="434.53" x2="351.20000000000005" y2="434.53" stroke-width="1.4"/><line x1="591.6" y1="434.53" x2="588.0" y2="434.53" stroke-width="1.4"/><line x1="456.04" y1="536.5" x2="456.04" y2="529.0" stroke-width="1.3"/><line x1="456.04" y1="295.0" x2="456.04" y2="302.5" stroke-width="1.3"/><line x1="347.6" y1="429.17" x2="355.1" y2="429.17" stroke-width="1.3"/><line x1="591.6" y1="429.17" x2="584.1" y2="429.17" stroke-width="1.3"/><line x1="461.47" y1="536.5" x2="461.47" y2="532.9" stroke-width="1.4"/><line x1="461.47" y1="295.0" x2="461.47" y2="298.6" stroke-width="1.4"/><line x1="347.6" y1="423.80" x2="351.20000000000005" y2="423.80" stroke-width="1.4"/><line x1="591.6" y1="423.80" x2="588.0" y2="423.80" stroke-width="1.4"/><line x1="466.89" y1="536.5" x2="466.89" y2="532.9" stroke-width="1.4"/><line x1="466.89" y1="295.0" x2="466.89" y2="298.6" stroke-width="1.4"/><line x1="347.6" y1="418.43" x2="351.20000000000005" y2="418.43" stroke-width="1.4"/><line x1="591.6" y1="418.43" x2="588.0" y2="418.43" stroke-width="1.4"/><line x1="472.31" y1="536.5" x2="472.31" y2="532.9" stroke-width="1.4"/><line x1="472.31" y1="295.0" x2="472.31" y2="298.6" stroke-width="1.4"/><line x1="347.6" y1="413.07" x2="351.20000000000005" y2="413.07" stroke-width="1.4"/><line x1="591.6" y1="413.07" x2="588.0" y2="413.07" stroke-width="1.4"/><line x1="477.73" y1="536.5" x2="477.73" y2="532.9" stroke-width="1.4"/><line x1="477.73" y1="295.0" x2="477.73" y2="298.6" stroke-width="1.4"/><line x1="347.6" y1="407.70" x2="351.20000000000005" y2="407.70" stroke-width="1.4"/><line x1="591.6" y1="407.70" x2="588.0" y2="407.70" stroke-width="1.4"/><line x1="483.16" y1="536.5" x2="483.16" y2="529.0" stroke-width="1.3"/><line x1="483.16" y1="295.0" x2="483.16" y2="302.5" stroke-width="1.3"/><line x1="347.6" y1="402.33" x2="355.1" y2="402.33" stroke-width="1.3"/><line x1="591.6" y1="402.33" x2="584.1" y2="402.33" stroke-width="1.3"/><line x1="488.58" y1="536.5" x2="488.58" y2="532.9" stroke-width="1.4"/><line x1="488.58" y1="295.0" x2="488.58" y2="298.6" stroke-width="1.4"/><line x1="347.6" y1="396.97" x2="351.20000000000005" y2="396.97" stroke-width="1.4"/><line x1="591.6" y1="396.97" x2="588.0" y2="396.97" stroke-width="1.4"/><line x1="494.00" y1="536.5" x2="494.00" y2="532.9" stroke-width="1.4"/><line x1="494.00" y1="295.0" x2="494.00" y2="298.6" stroke-width="1.4"/><line x1="347.6" y1="391.60" x2="351.20000000000005" y2="391.60" stroke-width="1.4"/><line x1="591.6" y1="391.60" x2="588.0" y2="391.60" stroke-width="1.4"/><line x1="499.42" y1="536.5" x2="499.42" y2="532.9" stroke-width="1.4"/><line x1="499.42" y1="295.0" x2="499.42" y2="298.6" stroke-width="1.4"/><line x1="347.6" y1="386.23" x2="351.20000000000005" y2="386.23" stroke-width="1.4"/><line x1="591.6" y1="386.23" x2="588.0" y2="386.23" stroke-width="1.4"/><line x1="504.84" y1="536.5" x2="504.84" y2="532.9" stroke-width="1.4"/><line x1="504.84" y1="295.0" x2="504.84" y2="298.6" stroke-width="1.4"/><line x1="347.6" y1="380.87" x2="351.20000000000005" y2="380.87" stroke-width="1.4"/><line x1="591.6" y1="380.87" x2="588.0" y2="380.87" stroke-width="1.4"/><line x1="510.27" y1="536.5" x2="510.27" y2="529.0" stroke-width="1.3"/><line x1="510.27" y1="295.0" x2="510.27" y2="302.5" stroke-width="1.3"/><line x1="347.6" y1="375.50" x2="355.1" y2="375.50" stroke-width="1.3"/><line x1="591.6" y1="375.50" x2="584.1" y2="375.50" stroke-width="1.3"/><line x1="515.69" y1="536.5" x2="515.69" y2="532.9" stroke-width="1.4"/><line x1="515.69" y1="295.0" x2="515.69" y2="298.6" stroke-width="1.4"/><line x1="347.6" y1="370.13" x2="351.20000000000005" y2="370.13" stroke-width="1.4"/><line x1="591.6" y1="370.13" x2="588.0" y2="370.13" stroke-width="1.4"/><line x1="521.11" y1="536.5" x2="521.11" y2="532.9" stroke-width="1.4"/><line x1="521.11" y1="295.0" x2="521.11" y2="298.6" stroke-width="1.4"/><line x1="347.6" y1="364.77" x2="351.20000000000005" y2="364.77" stroke-width="1.4"/><line x1="591.6" y1="364.77" x2="588.0" y2="364.77" stroke-width="1.4"/><line x1="526.53" y1="536.5" x2="526.53" y2="532.9" stroke-width="1.4"/><line x1="526.53" y1="295.0" x2="526.53" y2="298.6" stroke-width="1.4"/><line x1="347.6" y1="359.40" x2="351.20000000000005" y2="359.40" stroke-width="1.4"/><line x1="591.6" y1="359.40" x2="588.0" y2="359.40" stroke-width="1.4"/><line x1="531.96" y1="536.5" x2="531.96" y2="532.9" stroke-width="1.4"/><line x1="531.96" y1="295.0" x2="531.96" y2="298.6" stroke-width="1.4"/><line x1="347.6" y1="354.03" x2="351.20000000000005" y2="354.03" stroke-width="1.4"/><line x1="591.6" y1="354.03" x2="588.0" y2="354.03" stroke-width="1.4"/><line x1="537.38" y1="536.5" x2="537.38" y2="529.0" stroke-width="1.3"/><line x1="537.38" y1="295.0" x2="537.38" y2="302.5" stroke-width="1.3"/><line x1="347.6" y1="348.67" x2="355.1" y2="348.67" stroke-width="1.3"/><line x1="591.6" y1="348.67" x2="584.1" y2="348.67" stroke-width="1.3"/><line x1="542.80" y1="536.5" x2="542.80" y2="532.9" stroke-width="1.4"/><line x1="542.80" y1="295.0" x2="542.80" y2="298.6" stroke-width="1.4"/><line x1="347.6" y1="343.30" x2="351.20000000000005" y2="343.30" stroke-width="1.4"/><line x1="591.6" y1="343.30" x2="588.0" y2="343.30" stroke-width="1.4"/><line x1="548.22" y1="536.5" x2="548.22" y2="532.9" stroke-width="1.4"/><line x1="548.22" y1="295.0" x2="548.22" y2="298.6" stroke-width="1.4"/><line x1="347.6" y1="337.93" x2="351.20000000000005" y2="337.93" stroke-width="1.4"/><line x1="591.6" y1="337.93" x2="588.0" y2="337.93" stroke-width="1.4"/><line x1="553.64" y1="536.5" x2="553.64" y2="532.9" stroke-width="1.4"/><line x1="553.64" y1="295.0" x2="553.64" y2="298.6" stroke-width="1.4"/><line x1="347.6" y1="332.57" x2="351.20000000000005" y2="332.57" stroke-width="1.4"/><line x1="591.6" y1="332.57" x2="588.0" y2="332.57" stroke-width="1.4"/><line x1="559.07" y1="536.5" x2="559.07" y2="532.9" stroke-width="1.4"/><line x1="559.07" y1="295.0" x2="559.07" y2="298.6" stroke-width="1.4"/><line x1="347.6" y1="327.20" x2="351.20000000000005" y2="327.20" stroke-width="1.4"/><line x1="591.6" y1="327.20" x2="588.0" y2="327.20" stroke-width="1.4"/><line x1="564.49" y1="536.5" x2="564.49" y2="529.0" stroke-width="1.3"/><line x1="564.49" y1="295.0" x2="564.49" y2="302.5" stroke-width="1.3"/><line x1="347.6" y1="321.83" x2="355.1" y2="321.83" stroke-width="1.3"/><line x1="591.6" y1="321.83" x2="584.1" y2="321.83" stroke-width="1.3"/><line x1="569.91" y1="536.5" x2="569.91" y2="532.9" stroke-width="1.4"/><line x1="569.91" y1="295.0" x2="569.91" y2="298.6" stroke-width="1.4"/><line x1="347.6" y1="316.47" x2="351.20000000000005" y2="316.47" stroke-width="1.4"/><line x1="591.6" y1="316.47" x2="588.0" y2="316.47" stroke-width="1.4"/><line x1="575.33" y1="536.5" x2="575.33" y2="532.9" stroke-width="1.4"/><line x1="575.33" y1="295.0" x2="575.33" y2="298.6" stroke-width="1.4"/><line x1="347.6" y1="311.10" x2="351.20000000000005" y2="311.10" stroke-width="1.4"/><line x1="591.6" y1="311.10" x2="588.0" y2="311.10" stroke-width="1.4"/><line x1="580.76" y1="536.5" x2="580.76" y2="532.9" stroke-width="1.4"/><line x1="580.76" y1="295.0" x2="580.76" y2="298.6" stroke-width="1.4"/><line x1="347.6" y1="305.73" x2="351.20000000000005" y2="305.73" stroke-width="1.4"/><line x1="591.6" y1="305.73" x2="588.0" y2="305.73" stroke-width="1.4"/><line x1="586.18" y1="536.5" x2="586.18" y2="532.9" stroke-width="1.4"/><line x1="586.18" y1="295.0" x2="586.18" y2="298.6" stroke-width="1.4"/><line x1="347.6" y1="300.37" x2="351.20000000000005" y2="300.37" stroke-width="1.4"/><line x1="591.6" y1="300.37" x2="588.0" y2="300.37" stroke-width="1.4"/></g>
<g font-family="Liberation Sans, sans-serif" font-size="10.2" fill="#111"><text x="347.60" y="550.10" text-anchor="middle">5.0</text><text x="341.30" y="539.90" text-anchor="end">5.0</text><text x="374.71" y="550.10" text-anchor="middle">5.5</text><text x="341.30" y="513.07" text-anchor="end">5.5</text><text x="401.82" y="550.10" text-anchor="middle">6.0</text><text x="341.30" y="486.23" text-anchor="end">6.0</text><text x="428.93" y="550.10" text-anchor="middle">6.5</text><text x="341.30" y="459.40" text-anchor="end">6.5</text><text x="456.04" y="550.10" text-anchor="middle">7.0</text><text x="341.30" y="432.57" text-anchor="end">7.0</text><text x="483.16" y="550.10" text-anchor="middle">7.5</text><text x="341.30" y="405.73" text-anchor="end">7.5</text><text x="510.27" y="550.10" text-anchor="middle">8.0</text><text x="341.30" y="378.90" text-anchor="end">8.0</text><text x="537.38" y="550.10" text-anchor="middle">8.5</text><text x="341.30" y="352.07" text-anchor="end">8.5</text><text x="564.49" y="550.10" text-anchor="middle">9.0</text><text x="341.30" y="325.23" text-anchor="end">9.0</text><text x="591.60" y="550.10" text-anchor="middle">9.5</text><text x="341.30" y="298.40" text-anchor="end">9.5</text></g>
<text transform="translate(104.0,278.75) scale(1,0.91)" font-family="Liberation Mono, monospace" font-size="12.5" fill="#2a2a2a">12+log(O/H)</text>
<text transform="translate(186.0,282.3) scale(1,0.92)" font-family="Liberation Sans, sans-serif" font-size="8.8" fill="#2a2a2a">OBS</text>
<text transform="translate(410.3,278.75) scale(1,0.91)" font-family="Liberation Mono, monospace" font-size="12.5" fill="#2a2a2a">12+log(O/H)</text>
<text transform="translate(492.3,282.3) scale(1,0.92)" font-family="Liberation Sans, sans-serif" font-size="8.8" fill="#2a2a2a">OBS</text>
<text transform="translate(102.0,566.4) scale(1,0.91)" font-family="Liberation Mono, monospace" font-size="12.5" fill="#2a2a2a">12+log(N/H)</text>
<text transform="translate(184.0,570.0) scale(1,0.92)" font-family="Liberation Sans, sans-serif" font-size="8.8" fill="#2a2a2a">OBS</text>
<text transform="translate(410.3,566.4) scale(1,0.91)" font-family="Liberation Mono, monospace" font-size="12.5" fill="#2a2a2a">12+log(N/H)</text>
<text transform="translate(492.3,570.0) scale(1,0.92)" font-family="Liberation Sans, sans-serif" font-size="8.8" fill="#2a2a2a">OBS</text>
<text transform="translate(9.8,175.8) rotate(-90) scale(1,0.91)" font-family="Liberation Mono, monospace" font-size="12.5" fill="#2a2a2a">12+log(O/H)</text>
<text transform="translate(13.9,95.0) rotate(-90) scale(1,1.08)" font-family="Liberation Sans, sans-serif" font-size="8.3" fill="#2a2a2a">ONS</text>
<text transform="translate(311.8,175.0) rotate(-90) scale(1,0.91)" font-family="Liberation Mono, monospace" font-size="12.5" fill="#2a2a2a">12+log(O/H)</text>
<text transform="translate(315.9,93.6) rotate(-90) scale(1,1.0)" font-family="Liberation Sans, sans-serif" font-size="7.5" fill="#2a2a2a">T</text>
<text transform="translate(319.0,87.8) rotate(-90)" font-family="Liberation Sans, sans-serif" font-size="7.0" fill="#2a2a2a">ONS</text>
<text transform="translate(9.8,463.9) rotate(-90) scale(1,0.91)" font-family="Liberation Mono, monospace" font-size="12.5" fill="#2a2a2a">12+log(N/H)</text>
<text transform="translate(13.9,383.1) rotate(-90) scale(1,1.08)" font-family="Liberation Sans, sans-serif" font-size="8.3" fill="#2a2a2a">ONS</text>
<text transform="translate(311.8,463.1) rotate(-90) scale(1,0.91)" font-family="Liberation Mono, monospace" font-size="12.5" fill="#2a2a2a">12+log(N/H)</text>
<text transform="translate(315.7,382.3) rotate(-90) scale(1,1.0)" font-family="Liberation Sans, sans-serif" font-size="7.5" fill="#2a2a2a">T</text>
<text transform="translate(318.9,377.0) rotate(-90)" font-family="Liberation Sans, sans-serif" font-size="7.0" fill="#2a2a2a">ONS</text>
</svg>
</body></html>
